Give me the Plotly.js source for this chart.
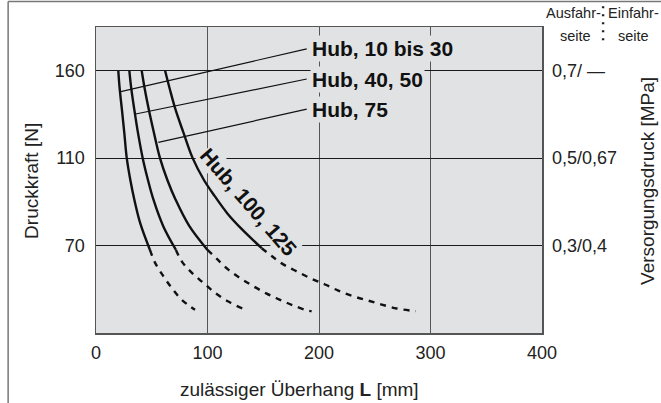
<!DOCTYPE html>
<html>
<head>
<meta charset="utf-8">
<script src="https://cdn.plot.ly/plotly-3.0.1.min.js"></script>
<style>
html,body{margin:0;padding:0;background:#fff;}
#chart{width:661px;height:403px;}
</style>
</head>
<body>
<div id="chart"></div>
<script>
// ---- data (x: zulässiger Überhang L [mm], y: Versorgungsdruck Ausfahrseite [MPa]) ----
const hub10_30_solid_x = [20.0, 21.2, 23.2, 25.3, 27.6, 30.8, 34.3, 39.8, 48.4];
const hub10_30_solid_y = [0.70, 0.66, 0.612, 0.56, 0.50, 0.45, 0.406, 0.35, 0.29];
const hub10_30_dash_x  = [48.4, 52.9, 60.4, 67.9, 76.9, 88.8];
const hub10_30_dash_y  = [0.29, 0.261, 0.230, 0.203, 0.176, 0.153];

const hub40_50_solid_x = [29.9, 31.6, 34.3, 37.5, 41.9, 46.6, 51.4, 60.2, 71.7];
const hub40_50_solid_y = [0.70, 0.66, 0.612, 0.56, 0.50, 0.45, 0.406, 0.345, 0.29];
const hub40_50_dash_x  = [71.7, 76.9, 85.8, 96.2, 106.7, 118.7, 131.6, 133.6];
const hub40_50_dash_y  = [0.29, 0.264, 0.238, 0.215, 0.192, 0.172, 0.156, 0.155];

const hub75_solid_x = [41.0, 43.6, 47.3, 51.8, 57.4, 64.0, 71.2, 83.6, 100.0];
const hub75_solid_y = [0.70, 0.66, 0.612, 0.56, 0.50, 0.45, 0.406, 0.345, 0.29];
const hub75_dash_x  = [100.0, 108.2, 118.7, 129.1, 141.1, 153.1, 165.0, 177.0, 190.4, 193.4];
const hub75_dash_y  = [0.29, 0.270, 0.245, 0.226, 0.207, 0.190, 0.176, 0.163, 0.151, 0.150];

const hub100_125_solid_x = [62.0, 66.0, 71.2, 78.2, 86.7, 96.8, 106.5, 118.0, 131.0, 148.6];
const hub100_125_solid_y = [0.70, 0.66, 0.612, 0.56, 0.50, 0.45, 0.413, 0.373, 0.337, 0.294];
const hub100_125_dash_x  = [148.6, 157.6, 168.0, 180.0, 193.4, 205.4, 217.3, 230.8, 244.3, 256.3, 269.7, 283.1, 286.7];
const hub100_125_dash_y  = [0.294, 0.276, 0.257, 0.241, 0.224, 0.211, 0.197, 0.184, 0.174, 0.165, 0.156, 0.151, 0.150];

const xTickVals = [0, 100, 200, 300, 400];
const xTickText = ['0', '100', '200', '300', '400'];
const yTickVals = [0.3, 0.5, 0.7];
const forceTickText = ['70', '110', '160'];
const pressureTickText = ['0,3/0,4', '0,5/0,67', '0,7/ —'];

const curveLabels = ['Hub, 10 bis 30', 'Hub, 40, 50', 'Hub, 75'];
const leaderFromX = [22.2, 35.6, 55.9];
const leaderFromY = [0.652, 0.601, 0.536];
const leaderToX = [189, 189, 189];
const leaderToY = [0.750, 0.681, 0.612];
const labelX = 192.3;
const rotLabel = 'Hub, 100, 125';
const rotLabelX = 137.0, rotLabelY = 0.398;

// ---- styles ----
const INK = '#111111';
const BG = '#e1e2e4';
const FONT = 'Liberation Sans, Arial, Helvetica, sans-serif';

function solid(x, y) {
  return {x, y, type: 'scatter', mode: 'lines', line: {color: INK, width: 2.4, shape: 'spline', smoothing: 1}, hoverinfo: 'skip', showlegend: false};
}
function dashed(x, y) {
  return {x, y, type: 'scatter', mode: 'lines', line: {color: INK, width: 2.4, dash: '6px,6px', shape: 'spline', smoothing: 1}, hoverinfo: 'skip', showlegend: false};
}

const traces = [
  solid(hub10_30_solid_x, hub10_30_solid_y), dashed(hub10_30_dash_x, hub10_30_dash_y),
  solid(hub40_50_solid_x, hub40_50_solid_y), dashed(hub40_50_dash_x, hub40_50_dash_y),
  solid(hub75_solid_x, hub75_solid_y), dashed(hub75_dash_x, hub75_dash_y),
  solid(hub100_125_solid_x, hub100_125_solid_y), dashed(hub100_125_dash_x, hub100_125_dash_y),
  {x: [0, 400], y: [0.1, 0.8], yaxis: 'y2', type: 'scatter', mode: 'none', hoverinfo: 'skip', showlegend: false}
];

const shapes = [];
for (let i = 0; i < curveLabels.length; i++) {
  shapes.push({type: 'line', xref: 'x', yref: 'y', x0: leaderFromX[i], y0: leaderFromY[i], x1: leaderToX[i], y1: leaderToY[i], line: {color: INK, width: 1.2}});
}
// outer frame (top + left)
shapes.push({type: 'line', xref: 'paper', yref: 'paper', x0: -0.197, x1: 1.3, y0: 1.083, y1: 1.083, line: {color: '#777', width: 1.5}});
shapes.push({type: 'line', xref: 'paper', yref: 'paper', x0: -0.197, x1: -0.197, y0: 1.083, y1: -0.23, line: {color: '#777', width: 1.5}});
// dotted separator
shapes.push({type: 'line', xref: 'paper', yref: 'paper', x0: 1.137, x1: 1.137, y0: 1.068, y1: 0.955, line: {color: '#222', width: 2.4, dash: '2px,6px'}});

const annotations = [];
for (let i = 0; i < curveLabels.length; i++) {
  annotations.push({x: labelX, y: leaderToY[i], xref: 'x', yref: 'y', xanchor: 'left', yanchor: 'middle', showarrow: false,
    text: '<b>' + curveLabels[i] + '</b>', font: {family: FONT, size: 21, color: INK}, bgcolor: BG, borderpad: 1});
}
annotations.push({x: rotLabelX, y: rotLabelY, xref: 'x', yref: 'y', xanchor: 'center', yanchor: 'middle', showarrow: false, textangle: 49,
  text: '<b>' + rotLabel + '</b>', font: {family: FONT, size: 21, color: INK}, bgcolor: BG, borderpad: 0});
// axis titles
annotations.push({xref: 'paper', yref: 'paper', x: -0.1435, y: 0.497, xanchor: 'center', yanchor: 'middle', showarrow: false, textangle: -90,
  text: 'Druckkraft [N]', font: {family: FONT, size: 19, color: '#222'}});
annotations.push({xref: 'paper', yref: 'paper', x: 1.2377, y: 0.497, xanchor: 'center', yanchor: 'middle', showarrow: false, textangle: -90,
  text: 'Versorgungsdruck [MPa]', font: {family: FONT, size: 19, color: '#222'}});
annotations.push({xref: 'paper', yref: 'paper', x: 0.457, y: -0.186, xanchor: 'center', yanchor: 'middle', showarrow: false,
  text: 'zulässiger Überhang <b>L</b> [mm]', font: {family: FONT, size: 19, color: '#222'}});
// Ausfahr / Einfahr headings
const headText = [['Ausfahr-', 1.071, 1.047], ['seite', 1.076, 0.969], ['Einfahr-', 1.205, 1.047], ['seite', 1.205, 0.969]];
headText.forEach(h => annotations.push({xref: 'paper', yref: 'paper', x: h[1], y: h[2], xanchor: 'center', yanchor: 'middle', showarrow: false,
  text: h[0], font: {family: FONT, size: 14.5, color: '#222'}}));

const layout = {
  width: 661, height: 403,
  margin: {l: 96, r: 119, t: 27, b: 70, pad: 0},
  paper_bgcolor: '#ffffff', plot_bgcolor: BG,
  showlegend: false,
  xaxis: {range: [0, 400], tickvals: xTickVals, ticktext: xTickText, showgrid: true, gridcolor: '#555', gridwidth: 1,
    zeroline: false, showline: true, mirror: true, linecolor: '#555', linewidth: 1.5, ticks: '',
    tickfont: {family: FONT, size: 18, color: '#222'}, ticklabelstandoff: 3, fixedrange: true},
  yaxis: {range: [0.1, 0.8], tickvals: yTickVals, ticktext: forceTickText, showgrid: true, gridcolor: '#1a1a1a', gridwidth: 1.2,
    zeroline: false, showline: true, mirror: true, linecolor: '#555', linewidth: 1.5, ticks: '',
    tickfont: {family: FONT, size: 18, color: '#222'}, ticklabelstandoff: 6, fixedrange: true},
  yaxis2: {range: [0.1, 0.8], overlaying: 'y', side: 'right', tickvals: yTickVals, ticktext: pressureTickText,
    showgrid: false, zeroline: false, showline: false, ticks: '',
    tickfont: {family: FONT, size: 18, color: '#222'}, ticklabelstandoff: 9, fixedrange: true},
  shapes, annotations
};

Plotly.newPlot('chart', traces, layout, {staticPlot: true, displayModeBar: false});
</script>
</body>
</html>
